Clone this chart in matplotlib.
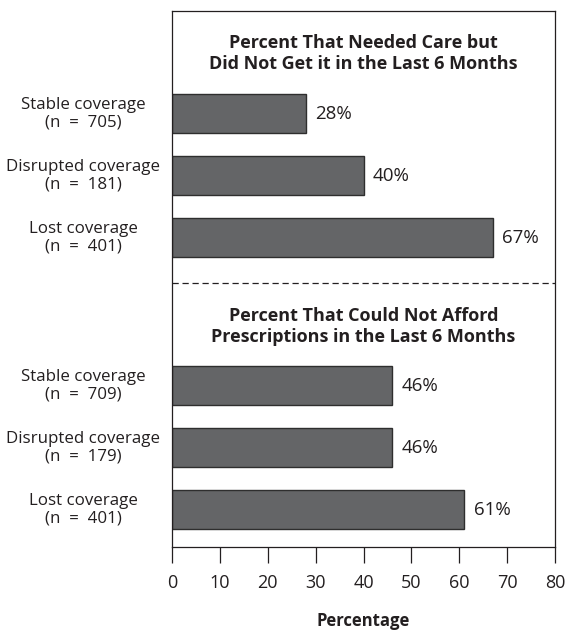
import numpy as np
import matplotlib.pyplot as plt
import matplotlib.transforms as mtransforms

plt.rcParams['font.family'] = ['Open Sans', 'DejaVu Sans']

# panel 1: needed care but did not get it
care_groups = ["Stable coverage", "Disrupted coverage", "Lost coverage"]
care_n = [705, 181, 401]
care_pct = [28, 40, 67]

# panel 2: could not afford prescriptions
rx_groups = ["Stable coverage", "Disrupted coverage", "Lost coverage"]
rx_n = [709, 179, 401]
rx_pct = [46, 46, 61]

care_title = "Percent That Needed Care but\nDid Not Get it in the Last 6 Months"
rx_title = "Percent That Could Not Afford\nPrescriptions in the Last 6 Months"

xticks = [0, 10, 20, 30, 40, 50, 60, 70, 80]

text_col = '#231f20'
bar_col = '#646567'
edge_col = '#2e2e2e'

# row layout (in row units, top of axes = 0)
care_y = np.array([1.66, 2.66, 3.66])
rx_y = np.array([6.05, 7.05, 8.05])
bar_h = 0.63

fig = plt.figure(figsize=(5.67, 6.3), dpi=100)
ax = fig.add_axes([172/567, 1 - 547/630, (555 - 172)/567, (547 - 10.7)/630])

for ys, vals in [(care_y, care_pct), (rx_y, rx_pct)]:
    ax.barh(ys, vals, height=bar_h, color=bar_col, edgecolor=edge_col, linewidth=1.0)
    for y, v in zip(ys, vals):
        ax.text(v + 2.0, y, f"{v}%", va='center', ha='left', fontsize=13.5, color=text_col)

ax.set_xlim(0, 80)
ax.set_ylim(8.65, 0)

# titles of the two panels
ax.text(40, 0.69, care_title, ha='center', va='center', fontsize=13,
        fontweight='bold', color=text_col, linespacing=1.2)
ax.text(40, 5.09, rx_title, ha='center', va='center', fontsize=13,
        fontweight='bold', color=text_col, linespacing=1.2)

# separator
ax.axhline(4.39, color=text_col, linewidth=0.9, linestyle=(0, (5, 3)))

# group labels on the left
trans = mtransforms.blended_transform_factory(fig.transFigure, ax.transData)
for ys, groups, ns in [(care_y, care_groups, care_n), (rx_y, rx_groups, rx_n)]:
    for y, g, n in zip(ys, groups, ns):
        ax.text(83.5/567, y, f"{g}\n(n  =  {n})", transform=trans, ha='center', va='center',
                fontsize=12.2, color=text_col, linespacing=1.12)

ax.set_yticks([])
ax.set_xticks(xticks)
ax.tick_params(axis='x', direction='out', length=11.5, width=0.9, pad=8,
               labelsize=13, colors=text_col)
for s in ax.spines.values():
    s.set_linewidth(0.9)
    s.set_color(text_col)

ax.set_xlabel("Percentage", fontsize=12, fontweight='bold', color=text_col, labelpad=14)

fig.savefig("out.png", dpi=100)
